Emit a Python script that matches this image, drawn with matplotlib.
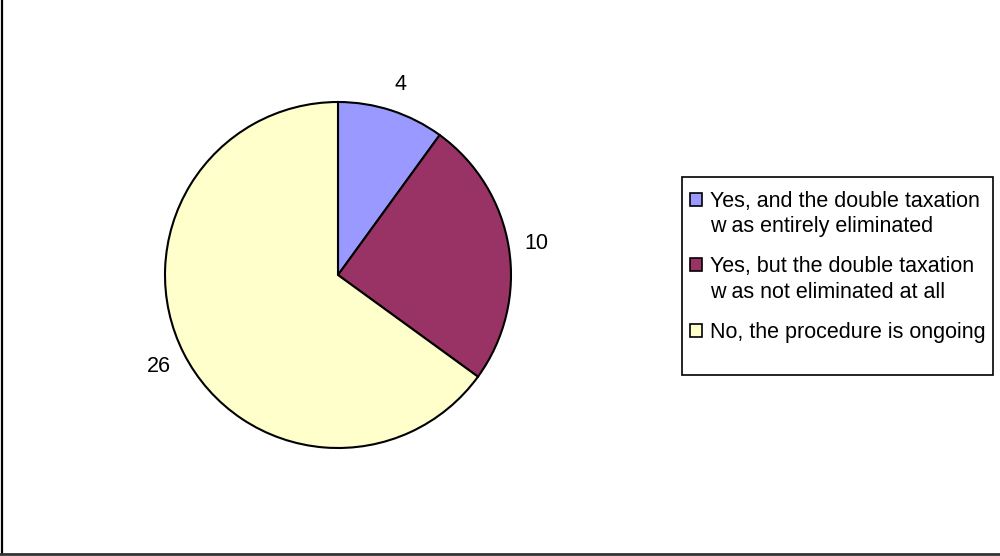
import matplotlib
matplotlib.use("Agg")
import matplotlib.pyplot as plt
from matplotlib.patches import Rectangle
from matplotlib.lines import Line2D
from matplotlib.legend_handler import HandlerPatch

categories = [
    "Yes, and the double taxation\nw as entirely eliminated",
    "Yes, but the double taxation\nw as not eliminated at all",
    "No, the procedure is ongoing",
]
values = [4, 10, 26]
colors = ["#9999FF", "#993366", "#FFFFCC"]

plt.rcParams['font.family'] = ['Liberation Sans', 'DejaVu Sans']
W, H = 1000, 556
FS = 15.5
fig = plt.figure(figsize=(W / 100, H / 100), dpi=100)

cx, cy, r = 338, 275, 173
ax = fig.add_axes([(cx - r) / W, 1 - (cy + r) / H, 2 * r / W, 2 * r / H])
wedges, texts = ax.pie(
    values, labels=[str(v) for v in values], colors=colors, startangle=90,
    counterclock=False, labeldistance=1.16,
    wedgeprops=dict(edgecolor="black", linewidth=1.5),
    textprops=dict(fontsize=FS, ha="center", va="center"),
)
ax.set_xlim(-1, 1)
ax.set_ylim(-1, 1)
ax.set_aspect("equal")
ax.axis("off")

# legend frame
fig.patches.append(Rectangle((682 / W, 1 - 375 / H), (993 - 682) / W, (375 - 177) / H,
                             transform=fig.transFigure, facecolor="white",
                             edgecolor="black", linewidth=1.2, zorder=1))

LINESP = 1.31
step_pt = 26.5 * 72 / 100  # line step in points
extra_pt = 2.0 * 72 / 100


def make_handler(nlines):
    shift = (nlines - 1) * (step_pt / 2 + extra_pt)

    def patch_func(legend, orig_handle, xdescent, ydescent, width, height, fontsize):
        return Rectangle((-xdescent, -ydescent + shift), width, height)
    return HandlerPatch(patch_func=patch_func)


hmap = {w: make_handler(lab.count("\n") + 1) for w, lab in zip(wedges, categories)}
leg = fig.legend(wedges, categories, loc="upper left",
                 bbox_to_anchor=(690 / W, 1 - 190.5 / H), frameon=False,
                 fontsize=FS, borderpad=0, borderaxespad=0,
                 handlelength=0.55, handleheight=0.55, handletextpad=0.4,
                 labelspacing=0.87, handler_map=hmap)
for t in leg.get_texts():
    t.set_linespacing(LINESP)
for h in leg.legend_handles:
    h.set_linewidth(1.2)
    h.set_edgecolor("black")

# chart border (left and bottom only)
fig.add_artist(Line2D([1.5 / W, 1.5 / W], [1 - 554 / H, 1], transform=fig.transFigure,
                      color="black", linewidth=1.6))
fig.add_artist(Line2D([0, 1], [1 - 554 / H, 1 - 554 / H], transform=fig.transFigure,
                      color="#333333", linewidth=2))

fig.savefig("out.png", dpi=100, facecolor="white")
